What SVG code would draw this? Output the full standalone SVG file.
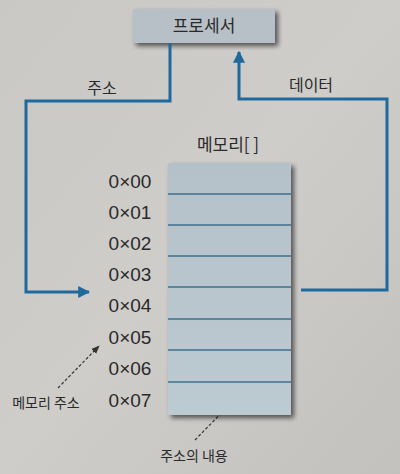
<svg xmlns="http://www.w3.org/2000/svg" width="400" height="474" viewBox="0 0 400 474">
<defs>
<linearGradient id="bg" x1="0" y1="0" x2="1" y2="1">
<stop offset="0" stop-color="#c9c8c5"/>
<stop offset="0.5" stop-color="#cfcdca"/>
<stop offset="1" stop-color="#c3c1bd"/>
</linearGradient>
<linearGradient id="mem" x1="0" y1="0" x2="0" y2="1">
<stop offset="0" stop-color="#b5c1c9"/>
<stop offset="1" stop-color="#bccad1"/>
</linearGradient>
<filter id="sh" x="-20%" y="-20%" width="140%" height="140%">
<feGaussianBlur in="SourceAlpha" stdDeviation="2.5"/>
<feOffset dx="3" dy="3"/>
<feComponentTransfer><feFuncA type="linear" slope="0.6"/></feComponentTransfer>
<feMerge><feMergeNode/><feMergeNode in="SourceGraphic"/></feMerge>
</filter>
<marker id="ah" viewBox="0 0 10 10" refX="9" refY="5" markerWidth="4" markerHeight="4" orient="auto">
<path d="M0,0 L10,5 L0,10 z" fill="#1f699c"/>
</marker>
<marker id="dh" viewBox="0 0 10 10" refX="9" refY="5" markerWidth="7" markerHeight="7" orient="auto">
<path d="M0,1 L10,5 L0,9 z" fill="#333"/>
</marker>
</defs>
<style>
.t{font-family:"Noto Sans CJK KR","Liberation Sans",sans-serif;fill:#2a2a2a}
.addr{font-family:"Liberation Sans","Noto Sans",sans-serif;font-size:19px;fill:#2a2a2a;text-anchor:middle}
.conn{fill:none;stroke:#1f699c;stroke-width:3}
.row{stroke:#3e6f90;stroke-width:1.6}
.dash{fill:none;stroke:#333;stroke-width:1.2;stroke-dasharray:3 2}
</style>
<rect width="400" height="474" fill="url(#bg)"/>

<g id="processor">
<rect x="133" y="9" width="142" height="34" fill="#b7c0c6" filter="url(#sh)"/>
<text class="t" x="204" y="32" font-size="17" text-anchor="middle">프로세서</text>
</g>

<g id="connectors">
<path class="conn" d="M170,43 V101 H26 V292 H89" marker-end="url(#ah)"/>
<path class="conn" d="M301,290 H387 V99 H239 V52" marker-end="url(#ah)"/>
<path class="dash" d="M58,388 L99,346" marker-end="url(#dh)"/>
<path class="dash" d="M195,440 L237,397" marker-end="url(#dh)"/>
</g>

<g id="label-addr">
<text class="t" x="102" y="94" font-size="16" text-anchor="middle">주소</text>
</g>
<g id="label-data">
<text class="t" x="311" y="91" font-size="16" text-anchor="middle">데이터</text>
</g>

<g id="memory">
<text class="t" x="228" y="151" font-size="17" text-anchor="middle">메모리[ ]</text>
<rect x="168" y="163" width="123" height="252" fill="url(#mem)" filter="url(#sh)"/>
<line class="row" x1="168" y1="194" x2="291" y2="194"/>
<line class="row" x1="168" y1="225" x2="291" y2="225"/>
<line class="row" x1="168" y1="256" x2="291" y2="256"/>
<line class="row" x1="168" y1="287" x2="291" y2="287"/>
<line class="row" x1="168" y1="319" x2="291" y2="319"/>
<line class="row" x1="168" y1="350" x2="291" y2="350"/>
<line class="row" x1="168" y1="382" x2="291" y2="382"/>
</g>

<g id="addresses">
<text class="addr" x="130" y="188">0×00</text>
<text class="addr" x="130" y="219">0×01</text>
<text class="addr" x="130" y="250">0×02</text>
<text class="addr" x="130" y="281">0×03</text>
<text class="addr" x="130" y="312">0×04</text>
<text class="addr" x="130" y="344">0×05</text>
<text class="addr" x="130" y="375">0×06</text>
<text class="addr" x="130" y="407">0×07</text>
</g>

<g id="label-memaddr">
<text class="t" x="46" y="408" font-size="14" text-anchor="middle">메모리 주소</text>
</g>
<g id="label-content">
<text class="t" x="194" y="461" font-size="14" text-anchor="middle">주소의 내용</text>
</g>
</svg>
